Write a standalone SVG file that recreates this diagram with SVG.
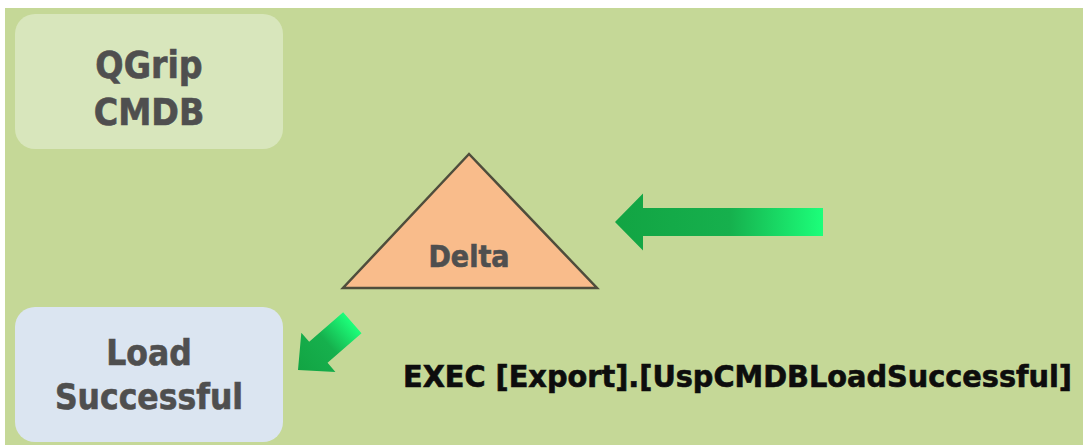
<svg xmlns="http://www.w3.org/2000/svg" width="1083" height="447" viewBox="0 0 1083 447">
  <defs>
    <linearGradient id="arrowGrad" x1="0" y1="0" x2="1" y2="0">
      <stop offset="0" stop-color="#12a443"/>
      <stop offset="0.55" stop-color="#16b04d"/>
      <stop offset="1" stop-color="#1cff7a"/>
    </linearGradient>
    <style>
      .lbl { font-family: "DejaVu Sans Condensed", "DejaVu Sans", "Liberation Sans", sans-serif; font-weight: bold; font-stretch: condensed; fill: #4f4f4f; stroke: #4f4f4f; stroke-width: 0.6; text-anchor: middle; }
      .cmd { font-family: "DejaVu Sans Condensed", "DejaVu Sans", "Liberation Sans", sans-serif; font-weight: bold; font-stretch: condensed; fill: #0d0d0d; stroke: #0d0d0d; stroke-width: 0.6; }
      .arrow { fill: url(#arrowGrad); }
    </style>
  </defs>
  <rect x="0" y="0" width="1083" height="447" fill="#ffffff"/>
  <rect x="5" y="8" width="1078" height="437" fill="#c5d897"/>

  <g id="node-qgrip">
    <rect x="15" y="14" width="268" height="135" rx="20" ry="20" fill="#d8e6bc"/>
    <text class="lbl" x="149" y="78" font-size="37">QGrip</text>
    <text class="lbl" x="149" y="125" font-size="37">CMDB</text>
  </g>

  <g id="node-delta">
    <polygon points="469,154 343,288 597,288" fill="#f9bc8b" stroke="#4f4d3c" stroke-width="2.5" stroke-linejoin="miter"/>
    <text class="lbl" x="469" y="267" font-size="30">Delta</text>
  </g>

  <g id="node-load">
    <rect x="15" y="307" width="268" height="135" rx="20" ry="20" fill="#dbe5f1"/>
    <text class="lbl" x="149" y="365" font-size="35">Load</text>
    <text class="lbl" x="149" y="409" font-size="35">Successful</text>
  </g>

  <g id="connectors">
    <polygon class="arrow" points="0,0 28,-28.5 28,-14 208,-14 208,14 28,14 28,28.5" transform="translate(615,222)"/>
    <polygon class="arrow" points="0,0 27,-26 27,-14 72,-14 72,14 27,14 27,26" transform="translate(298,370) rotate(-41)"/>
  </g>

  <g id="label-exec">
    <text class="cmd" x="403" y="387" font-size="31" textLength="669" lengthAdjust="spacingAndGlyphs">EXEC [Export].[UspCMDBLoadSuccessful]</text>
  </g>
</svg>
